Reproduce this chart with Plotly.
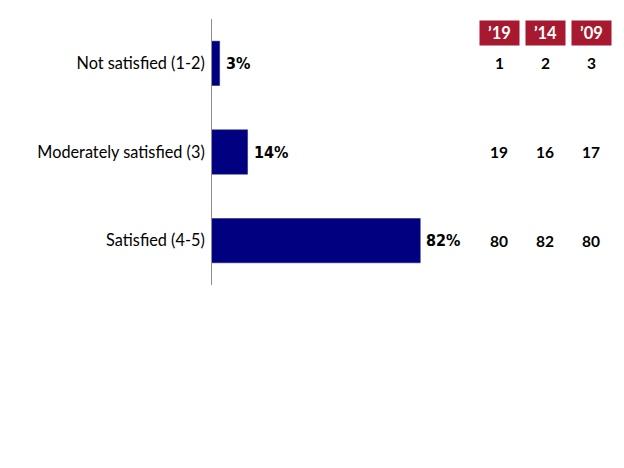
import plotly.graph_objects as go

categories = ["Not satisfied (1-2)", "Moderately satisfied (3)", "Satisfied (4-5)"]
values = [3, 14, 82]
years = ["\u201919", "\u201914", "\u201909"]
hist_2019 = [1, 19, 80]
hist_2014 = [2, 16, 82]
hist_2009 = [3, 17, 80]
history = [hist_2019, hist_2014, hist_2009]

# page body has an 8px margin; compensate so the figure sits where the reference does
OFF = 8
W, H = 624 - OFF, 468 - OFF
L, T = 212 - OFF, 19 - OFF
plot_right, plot_bottom = 466 - OFF, 285 - OFF
R, B = W - plot_right, H - plot_bottom
pw = W - L - R
ph = H - T - B

def px_to_paper_x(px):
    return (px - OFF - L) / pw

def px_to_paper_y(py):
    return (plot_bottom - (py - OFF)) / ph

fig = go.Figure()
fig.add_trace(go.Bar(
    y=categories, x=values, orientation="h",
    marker=dict(color="#000080", line=dict(color="#1a1a6e", width=0.5)),
    width=0.5,
    hoverinfo="skip",
))

col_px = [499, 545, 591]
annotations = []
for v, cat in zip(values, categories):
    annotations.append(dict(
        x=v, xref="x", y=cat, yref="y",
        text=f"<b>{v}%</b>", showarrow=False,
        font=dict(family="DejaVu Sans Condensed, DejaVu Sans", size=16, color="black"),
        xanchor="left", yanchor="middle", xshift=4,
    ))
for i, yr in enumerate(years):
    annotations.append(dict(
        x=px_to_paper_x(col_px[i]), xref="paper",
        y=px_to_paper_y(33), yref="paper",
        text=f"<b>{yr}</b>", showarrow=False,
        font=dict(family="Lato", size=16.5, color="white"),
        bgcolor="#A6192E", width=37, height=22,
        xanchor="center", yanchor="middle",
    ))
    for j, cat in enumerate(categories):
        annotations.append(dict(
            x=px_to_paper_x(col_px[i]), xref="paper",
            y=cat, yref="y",
            text=f"<b>{history[i][j]}</b>", showarrow=False,
            font=dict(family="Lato", size=15.5, color="black"),
            xanchor="center", yanchor="middle",
        ))

fig.update_layout(
    width=W, height=H,
    margin=dict(l=L, r=R, t=T, b=B),
    paper_bgcolor="white", plot_bgcolor="white",
    showlegend=False,
    xaxis=dict(range=[0, 100], visible=False, fixedrange=True),
    yaxis=dict(
        autorange=False, range=[2.5, -0.5],
        showline=True, linecolor="#8c8c8c", linewidth=1,
        ticks="", showgrid=False, zeroline=False,
        tickfont=dict(family="Lato", size=16.3, color="black"),
        ticklabelstandoff=3,
    ),
    annotations=annotations,
)

fig.write_html("out.html")
